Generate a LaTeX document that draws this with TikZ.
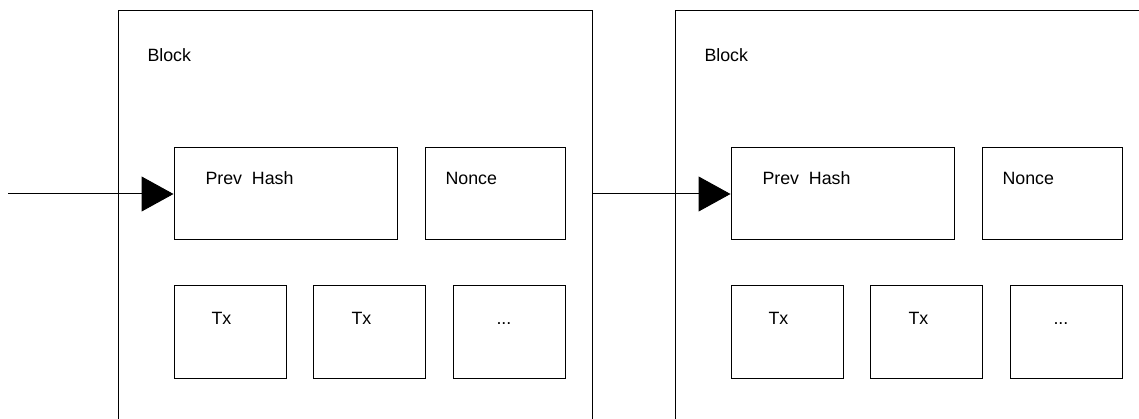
\documentclass[tikz,border=0pt]{standalone}
\usepackage{fontspec}
\setmainfont{Liberation Sans}
\usetikzlibrary{arrows.meta}
\begin{document}
\begin{tikzpicture}[x=1pt, y=-1pt, line width=1pt,
  blockbox/.style={draw, rectangle, inner sep=0, minimum width=474pt, minimum height=429pt},
  hashbox/.style={draw, rectangle, inner sep=0, minimum width=223pt, minimum height=92pt},
  noncebox/.style={draw, rectangle, inner sep=0, minimum width=140pt, minimum height=92pt},
  txbox/.style={draw, rectangle, inner sep=0, minimum width=112pt, minimum height=92pt},
  lbl/.style={anchor=base west, inner sep=0, font=\fontsize{17.8}{21}\selectfont},
  link/.style={-{Triangle[length=32pt, width=35pt]}}]
\useasboundingbox (0,0) rectangle (1139,419);
\begin{scope}
\clip (0,0) rectangle (1139,419);
% first block
\node[blockbox] (blk0) at (355,225.5){};
\node[lbl] (blk0lbl) at (147,62){Block};
\node[hashbox] (prev0) at (285.5,194){};
\node[lbl] (prev0lbl) at (205,185){Prev\ \ Hash};
\node[noncebox] (nonce0) at (495,194){};
\node[lbl] (nonce0lbl) at (445,185){Nonce};
\node[txbox] (tx0) at (230,332){};
\node[lbl] (tx0lbl) at (211,324){Tx};
\node[txbox] (tx1) at (369.5,332){};
\node[lbl] (tx1lbl) at (351,324){Tx};
\node[txbox] (tx2) at (509,332){};
\node[lbl] (tx2lbl) at (496,324){...};
% second block
\node[blockbox] (blk1) at (912,225.5){};
\node[lbl] (blk1lbl) at (704,62){Block};
\node[hashbox] (prev1) at (842.5,194){};
\node[lbl] (prev1lbl) at (762,185){Prev\ \ Hash};
\node[noncebox] (nonce1) at (1052,194){};
\node[lbl] (nonce1lbl) at (1002,185){Nonce};
\node[txbox] (tx3) at (787,332){};
\node[lbl] (tx3lbl) at (768,324){Tx};
\node[txbox] (tx4) at (926.5,332){};
\node[lbl] (tx4lbl) at (908,324){Tx};
\node[txbox] (tx5) at (1066,332){};
\node[lbl] (tx5lbl) at (1053,324){...};
% links
\coordinate (start) at (8,194);
\draw[link](start) -- (prev0.west);
\draw[link](blk0.east |- prev1.west) -- (prev1.west);
\end{scope}
\end{tikzpicture}
\end{document}
